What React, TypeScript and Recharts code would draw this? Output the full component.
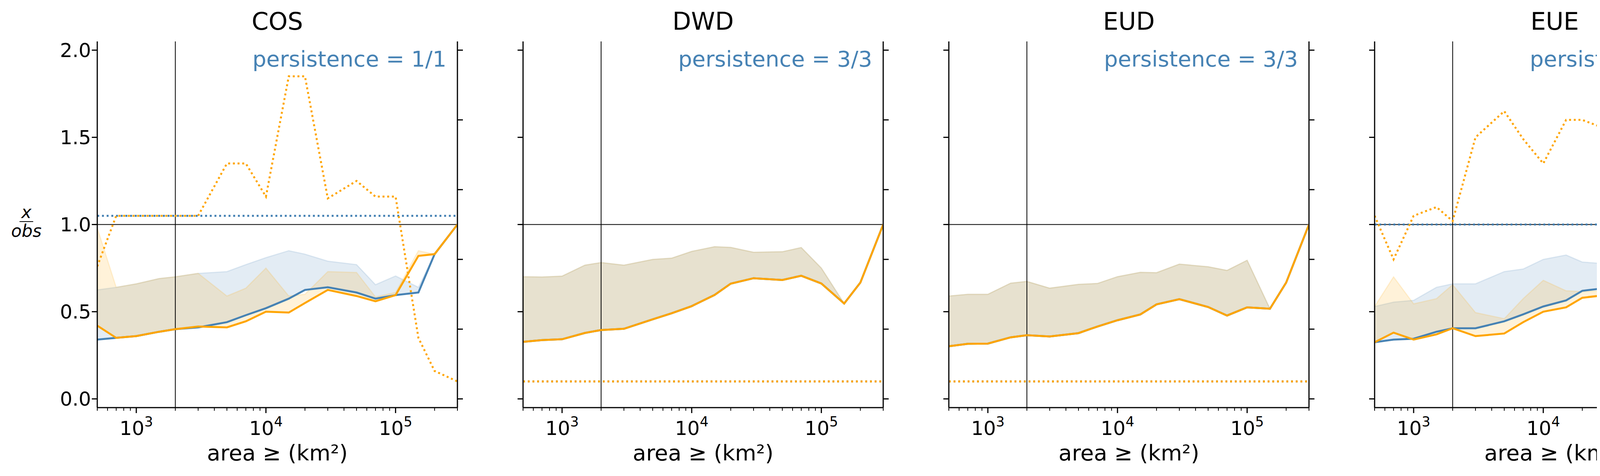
import React from "react";
import { ComposedChart, Area, Line, XAxis, YAxis, ReferenceLine } from "recharts";

const areas = [500, 700, 1000, 1500, 2000, 3000, 5000, 7000, 10000, 15000, 20000, 30000, 50000, 70000, 100000, 150000, 200000, 300000];
const titles = ["COS", "DWD", "EUD", "EUE"];
const persistence = ["persistence = 1/1", "persistence = 3/3", "persistence = 3/3", "persistence = 1/1"];

const cosTpOpt = [0.34, 0.35, 0.36, 0.385, 0.4, 0.41, 0.44, 0.48, 0.52, 0.575, 0.625, 0.64, 0.61, 0.575, 0.595, 0.61, 0.83, 1.0];
const cosFpOpt = [0.625, 0.64, 0.66, 0.69, 0.7, 0.72, 0.73, 0.77, 0.81, 0.85, 0.83, 0.79, 0.77, 0.655, 0.705, 0.64, 0.83, 1.0];
const cosTpArea = [0.42, 0.35, 0.36, 0.385, 0.4, 0.415, 0.41, 0.445, 0.5, 0.495, 0.55, 0.625, 0.59, 0.56, 0.595, 0.82, 0.83, 1.0];
const cosFpArea = [0.98, 0.64, 0.66, 0.69, 0.7, 0.72, 0.59, 0.635, 0.75, 0.59, 0.6, 0.73, 0.725, 0.585, 0.61, 0.85, 0.83, 1.0];
const cosProbOpt = [0.525, 0.525, 0.525, 0.525, 0.525, 0.525, 0.525, 0.525, 0.525, 0.525, 0.525, 0.525, 0.525, 0.525, 0.525, 0.525, 0.525, 0.525];
const cosProbArea = [0.38, 0.525, 0.525, 0.525, 0.525, 0.525, 0.675, 0.675, 0.58, 0.925, 0.925, 0.575, 0.625, 0.58, 0.58, 0.175, 0.08, 0.05];

const dwdTp = [0.327, 0.337, 0.342, 0.378, 0.395, 0.402, 0.456, 0.491, 0.532, 0.596, 0.661, 0.692, 0.682, 0.706, 0.662, 0.547, 0.667, 1.0];
const dwdFp = [0.701, 0.699, 0.704, 0.767, 0.782, 0.767, 0.8, 0.807, 0.846, 0.873, 0.869, 0.841, 0.844, 0.868, 0.75, 0.547, 0.667, 1.0];
const dwdProb = [0.05, 0.05, 0.05, 0.05, 0.05, 0.05, 0.05, 0.05, 0.05, 0.05, 0.05, 0.05, 0.05, 0.05, 0.05, 0.05, 0.05, 0.05];

const eudTp = [0.302, 0.316, 0.317, 0.353, 0.365, 0.358, 0.377, 0.415, 0.451, 0.484, 0.542, 0.572, 0.527, 0.478, 0.525, 0.517, 0.667, 1.0];
const eudFp = [0.59, 0.6, 0.6, 0.664, 0.674, 0.635, 0.657, 0.662, 0.701, 0.726, 0.724, 0.773, 0.758, 0.737, 0.795, 0.517, 0.667, 1.0];
const eudProb = [0.05, 0.05, 0.05, 0.05, 0.05, 0.05, 0.05, 0.05, 0.05, 0.05, 0.05, 0.05, 0.05, 0.05, 0.05, 0.05, 0.05, 0.05];

const eueTpOpt = [0.325, 0.34, 0.345, 0.385, 0.405, 0.405, 0.445, 0.485, 0.53, 0.565, 0.62, 0.635, 0.585, 0.54, 0.595, 0.61, 0.83, 1.0];
const eueFpOpt = [0.53, 0.555, 0.565, 0.64, 0.66, 0.66, 0.73, 0.745, 0.8, 0.825, 0.785, 0.775, 0.76, 0.75, 0.82, 0.62, 0.83, 1.0];
const eueTpArea = [0.325, 0.38, 0.34, 0.37, 0.405, 0.36, 0.375, 0.44, 0.5, 0.525, 0.58, 0.595, 0.56, 0.885, 0.835, 0.79, 0.83, 1.0];
const eueFpArea = [0.53, 0.7, 0.545, 0.575, 0.655, 0.495, 0.46, 0.575, 0.68, 0.62, 0.615, 0.62, 0.595, 1.245, 1.11, 0.825, 0.83, 1.0];
const eueProbOpt = [0.5, 0.5, 0.5, 0.5, 0.5, 0.5, 0.5, 0.5, 0.5, 0.5, 0.5, 0.5, 0.5, 0.5, 0.5, 0.5, 0.5, 0.5];
const eueProbArea = [0.525, 0.4, 0.525, 0.55, 0.51, 0.75, 0.825, 0.745, 0.675, 0.8, 0.8, 0.775, 0.75, 0.075, 0.075, 0.075, 0.05, 0.05];

const xTicks = [500, 600, 700, 800, 900, 1000, 2000, 3000, 4000, 5000, 6000, 7000, 8000, 9000, 10000, 20000, 30000, 40000, 50000, 60000, 70000, 80000, 90000, 100000, 200000, 300000];
const majors: Record<number, string> = { 1000: "3", 10000: "4", 100000: "5" };
const leftTicks = [0, 0.5, 1, 1.5, 2];
const rightTicks = [0, 0.2, 0.4, 0.6, 0.8, 1];

const BLUE = "#4682b4";
const ORANGE = "#ffa500";
const FONT = "DejaVu Sans";

function build(tpO: number[], fpO: number[], tpA: number[], fpA: number[], pO: number[], pA: number[]) {
  return areas.map((x, i) => ({ x, tpO: tpO[i], fpO: fpO[i], tpA: tpA[i], fpA: fpA[i], pO: pO[i], pA: pA[i] }));
}

const panels = [
  build(cosTpOpt, cosFpOpt, cosTpArea, cosFpArea, cosProbOpt, cosProbArea),
  build(dwdTp, dwdFp, dwdTp, dwdFp, dwdProb, dwdProb),
  build(eudTp, eudFp, eudTp, eudFp, eudProb, eudProb),
  build(eueTpOpt, eueFpOpt, eueTpArea, eueFpArea, eueProbOpt, eueProbArea),
];

const XTick = (props: any) => {
  const { x, y, payload } = props;
  const v = payload.value;
  const exp = majors[v];
  return (
    <g>
      <line x1={x} x2={x} y1={y - 8} y2={y - 8 + (exp ? 14 : 8)} stroke="#000" strokeWidth={exp ? 3 : 2} />
      {exp && (
        <text x={x} y={y + 62} textAnchor="middle" fontSize={50} fontFamily={FONT} fill="#000">
          10<tspan dy={-22} fontSize={35}>{exp}</tspan>
        </text>
      )}
    </g>
  );
};

const PLOT_W = 922;
const PLOT_H = 937;
const TOP = 106;
const SIDE = 200;

function Panel({ idx }: { idx: number }) {
  const L = 249 + 1090 * idx;
  const data = panels[idx];
  const first = idx === 0;
  const last = idx === 3;
  return (
    <div style={{ position: "absolute", left: L - SIDE, top: 0, width: PLOT_W + 2 * SIDE, height: 1218 }}>
      <ComposedChart
        width={PLOT_W + 2 * SIDE}
        height={1218}
        data={data}
        margin={{ top: TOP, bottom: 0, left: 0, right: 0 }}
      >
        <XAxis
          xAxisId="b"
          dataKey="x"
          type="number"
          scale="log"
          domain={[500, 300000]}
          allowDataOverflow
          ticks={xTicks}
          interval={0}
          tick={<XTick />}
          tickLine={false}
          axisLine={{ stroke: "#000", strokeWidth: 3 }}
          height={1218 - TOP - PLOT_H}
          label={{ value: "area ≥ (km²)", position: "insideBottom", offset: 40, fontSize: 56, fontFamily: FONT, fill: "#000" }}
        />
        <XAxis xAxisId="t" orientation="top" dataKey="x" type="number" scale="log" domain={[500, 300000]} allowDataOverflow height={0} tick={false} tickLine={false} axisLine={{ stroke: "#000", strokeWidth: 3 }} />
        <YAxis
          yAxisId="l"
          domain={[-0.05, 2.05]}
          ticks={leftTicks}
          interval={0}
          width={SIDE}
          tickSize={14}
          tickLine={{ stroke: "#000", strokeWidth: 3 }}
          axisLine={{ stroke: "#000", strokeWidth: 3 }}
          tick={{ fontSize: 50, fontFamily: FONT, fill: "#000" }}
          tickFormatter={(v: number) => (first ? v.toFixed(1) : "")}
          allowDataOverflow
        />
        <YAxis
          yAxisId="r"
          orientation="right"
          domain={[-0.025, 1.025]}
          ticks={rightTicks}
          interval={0}
          width={SIDE}
          tickSize={14}
          tickLine={{ stroke: "#000", strokeWidth: 3 }}
          axisLine={{ stroke: "#000", strokeWidth: 3 }}
          tick={{ fontSize: 50, fontFamily: FONT, fill: "#000" }}
          tickFormatter={(v: number) => (last ? v.toFixed(1) : "")}
          allowDataOverflow
        />
        <Area xAxisId="b" yAxisId="l" type="linear" dataKey={(d: any) => [d.tpO, d.fpO]} fill={BLUE} fillOpacity={0.15} stroke={BLUE} strokeOpacity={0.15} strokeWidth={3} isAnimationActive={false} dot={false} activeDot={false} />
        <Area xAxisId="b" yAxisId="l" type="linear" dataKey={(d: any) => [d.tpA, d.fpA]} fill={ORANGE} fillOpacity={0.15} stroke={ORANGE} strokeOpacity={0.15} strokeWidth={3} isAnimationActive={false} dot={false} activeDot={false} />
        <ReferenceLine xAxisId="b" yAxisId="l" y={1} stroke="#000" strokeWidth={2} />
        <ReferenceLine xAxisId="b" yAxisId="l" x={2000} stroke="#000" strokeWidth={2} />
        <Line xAxisId="b" yAxisId="l" type="linear" dataKey="tpO" stroke={BLUE} strokeWidth={5} dot={false} isAnimationActive={false} />
        <Line xAxisId="b" yAxisId="r" type="linear" dataKey="pO" stroke={BLUE} strokeWidth={5} strokeDasharray="5 7" dot={false} isAnimationActive={false} />
        <Line xAxisId="b" yAxisId="l" type="linear" dataKey="tpA" stroke={ORANGE} strokeWidth={5} dot={false} isAnimationActive={false} />
        <Line xAxisId="b" yAxisId="r" type="linear" dataKey="pA" stroke={ORANGE} strokeWidth={5} strokeDasharray="5 7" dot={false} isAnimationActive={false} />
      </ComposedChart>
      <div style={{ position: "absolute", left: SIDE, width: PLOT_W, top: 18, textAlign: "center", fontSize: 62, fontFamily: FONT, lineHeight: "74px" }}>
        {titles[idx]}
      </div>
      <div style={{ position: "absolute", left: SIDE, width: PLOT_W - 28, top: 118, textAlign: "right", fontSize: 56, fontFamily: FONT, color: BLUE, lineHeight: "66px" }}>
        {persistence[idx]}
      </div>
    </div>
  );
}

const legendItems = [
  { label: "FP (optimal)", kind: "fill", color: BLUE },
  { label: "TP (optimal)", kind: "line", color: BLUE },
  { label: "prob. (optimal)", kind: "dot", color: BLUE },
  { label: "FP (area optimized)", kind: "fill", color: ORANGE },
  { label: "TP (area optimized)", kind: "line", color: ORANGE },
  { label: "prob. (area optimized)", kind: "dot", color: ORANGE },
];

export default function App() {
  return (
    <div style={{ position: "relative", margin: "-8px 0 0 -8px", width: 5513, height: 1218, background: "#fff", overflow: "hidden" }}>
      {[0, 1, 2, 3].map((i) => (
        <Panel key={i} idx={i} />
      ))}
      <div style={{ position: "absolute", left: 20, top: 520, width: 95, textAlign: "center", fontFamily: FONT, fontStyle: "italic", fontSize: 44, lineHeight: "46px" }}>
        <div style={{ borderBottom: "2px solid #000", display: "inline-block", padding: "0 4px" }}>x</div>
        <div>obs</div>
      </div>
      <div style={{ position: "absolute", left: 4610, top: 578, transform: "translate(-50%, -50%) rotate(-90deg)", fontFamily: FONT, fontSize: 56, whiteSpace: "nowrap" }}>
        probability
      </div>
      <div style={{ position: "absolute", left: 4700, top: 110, width: 806, height: 492, border: "3px solid #d6d6d6", borderRadius: 10, boxSizing: "border-box", fontFamily: FONT, fontSize: 48 }}>
        {legendItems.map((it, i) => (
          <div key={i} style={{ position: "absolute", left: 20, top: 14 + i * 80, height: 80, display: "flex", alignItems: "center" }}>
            <svg width={112} height={60} style={{ marginRight: 44 }}>
              {it.kind === "fill" && <rect x={2} y={8} width={108} height={44} fill={it.color} fillOpacity={0.15} stroke={it.color} strokeOpacity={0.2} strokeWidth={3} />}
              {it.kind === "line" && <line x1={0} x2={112} y1={30} y2={30} stroke={it.color} strokeWidth={5} />}
              {it.kind === "dot" && <line x1={0} x2={112} y1={30} y2={30} stroke={it.color} strokeWidth={5} strokeDasharray="5 7" />}
            </svg>
            <span style={{ whiteSpace: "nowrap" }}>{it.label}</span>
          </div>
        ))}
      </div>
    </div>
  );
}
